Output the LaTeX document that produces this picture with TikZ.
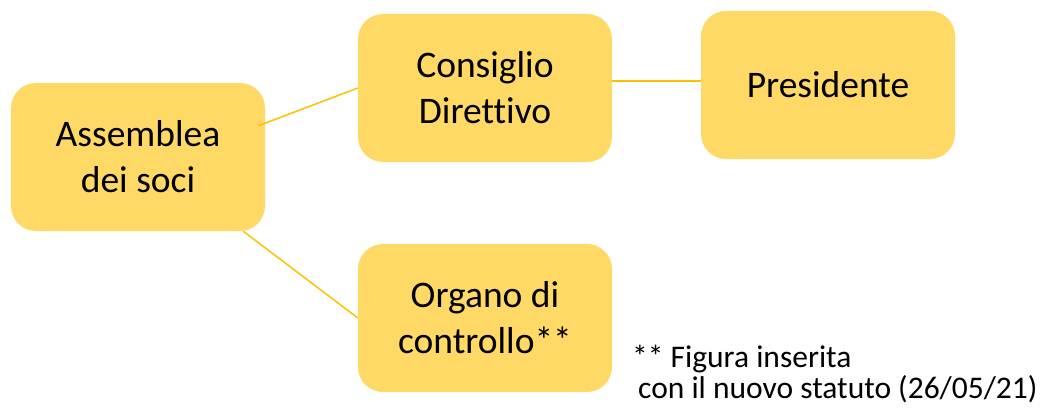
\documentclass[tikz,border=0pt]{standalone}
\usepackage{fontspec}
\setmainfont[Ligatures={NoCommon}]{Carlito}
\usetikzlibrary{calc}
\definecolor{boxfill}{HTML}{FFD966}
\definecolor{linkcol}{HTML}{FFC000}
\begin{document}
\begin{tikzpicture}[x=1pt,y=-1pt,
  orgbox/.style={draw=none,fill=boxfill,rounded corners=25pt,minimum width=254pt,minimum height=148pt,
    align=center,font=\fontsize{37.5}{46}\selectfont,inner sep=0pt},
  link/.style={draw=linkcol,line width=1.5pt}]
\useasboundingbox (0,0) rectangle (1050,412);
\node[orgbox] (a) at (138,157) {Assemblea\\dei soci};
\node[orgbox] (c) at (485,88) {Consiglio\\Direttivo};
\node[orgbox] (p) at (828,85) {Presidente};
\node[orgbox] (o) at (485,318) {Organo di\\controllo**};
\coordinate (a1) at ($(a.north east)+(-7,43)$);
\coordinate (a2) at ($(a.south east)+(-22,0)$);
\coordinate (c1) at ($(c.east)+(0,-7)$);
\draw[link] (a1) -- (c.west);
\draw[link] (c1) -- (p.west |- c1);
\draw[link] (a2) -- (o.west);
\node[anchor=north west,align=left,inner sep=0pt,font=\fontsize{31.5}{31}\selectfont] (n) at (632,345)
  {** Figura inserita\\\hspace*{6pt}con il nuovo statuto (26/05/21)};
\end{tikzpicture}
\end{document}
